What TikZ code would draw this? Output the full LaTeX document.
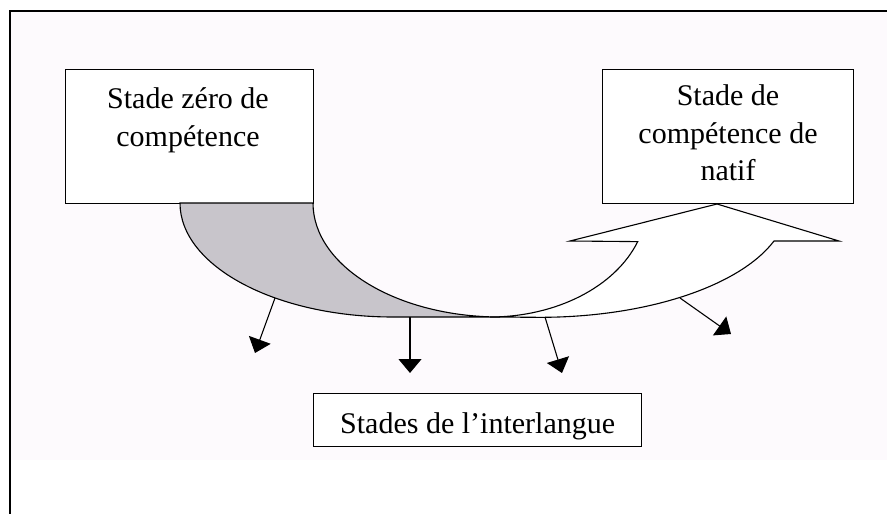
\documentclass[tikz,border=0pt]{standalone}
\usepackage{fontspec}
\setmainfont{Liberation Serif}
\usetikzlibrary{arrows.meta}
\definecolor{bgtint}{RGB}{253,250,253}
\definecolor{grayfill}{RGB}{200,197,203}
\tikzset{
  box/.style={draw=black, line width=1.3pt, fill=white, inner sep=0pt, rectangle},
  lbl/.style={font=\fontsize{30pt}{37.5pt}\selectfont, align=center, inner sep=0pt},
  curve/.style={draw=black, line width=1.1pt, line join=miter},
  small/.style={draw=black, line width=1.1pt, -{Triangle[width=23pt,length=14pt]}},
}
\begin{document}
\begin{tikzpicture}[x=1pt,y=1pt]
\useasboundingbox (0,0) rectangle (887,-514);
\fill[white] (0,0) rectangle (887,-514);
\fill[bgtint] (10,-11) rectangle (887,-460);
% frame
\draw[line width=1.3pt] (10,-514) -- (10,-11) -- (887,-11);
% boxes
\node[box, minimum width=248pt, minimum height=134pt, anchor=north west] (b1) at (65,-69) {};
\node[lbl, anchor=north] (b1t) at (188,-87.5) {Stade zéro de\\compétence};
\node[box, minimum width=251pt, minimum height=134pt, anchor=north west] (b2) at (602,-69) {};
\node[lbl, anchor=north] (b2t) at (728,-84.5) {Stade de\\compétence de\\natif};
\node[box, minimum width=328pt, text height=40pt, text depth=13pt, anchor=north west,
      font=\fontsize{30pt}{37.5pt}\selectfont] (b3) at (313,-393) {Stades de l’interlangue};
% white curved arrow
\path[curve, fill=white] (490,-317)
  arc[start angle=270, end angle=340.2, x radius=157pt, y radius=114pt]
  -- (570,-241) -- (717,-204) -- (839,-241) -- (774,-241)
  arc[start angle=340.7, end angle=270, x radius=248pt, y radius=114pt]
  -- cycle;
% gray curved band
\path[curve, fill=grayfill] (180,-203)
  arc[start angle=180, end angle=270, x radius=213pt, y radius=114pt]
  -- (500,-317)
  arc[start angle=270, end angle=180, x radius=187pt, y radius=114pt]
  -- cycle;
% small arrows
\coordinate (s1) at (275,-298);
\coordinate (e1) at (255,-353);
\coordinate (s2) at (410,-317);
\coordinate (e2) at (410,-373);
\coordinate (s3) at (545,-317);
\coordinate (e3) at (562,-373);
\coordinate (s4) at (680,-298);
\coordinate (e4) at (731,-334);
\draw[small] (s1) -- (e1);
\draw[small] (s2) -- (e2);
\draw[small] (s3) -- (e3);
\draw[small] (s4) -- (e4);
\end{tikzpicture}
\end{document}
